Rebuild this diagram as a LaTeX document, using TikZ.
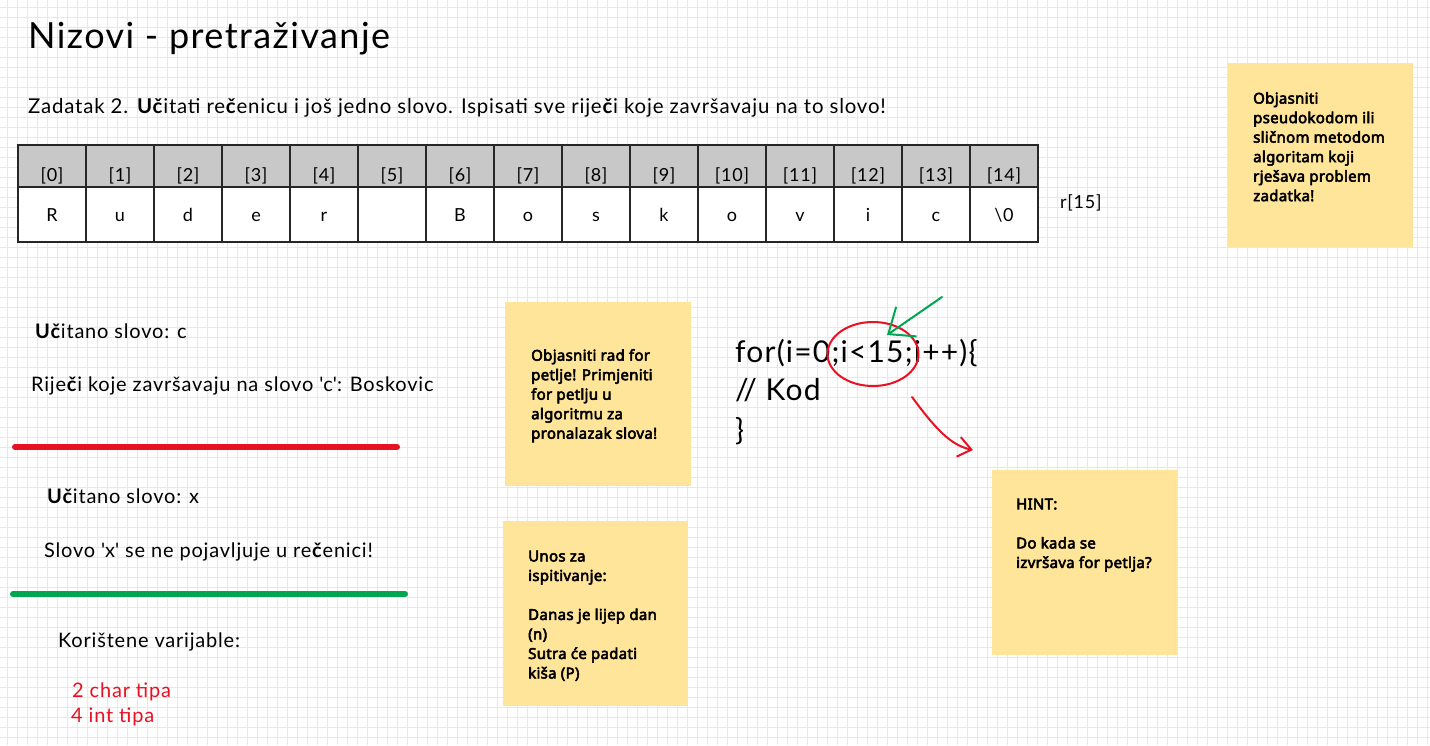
\documentclass[tikz,border=0pt]{standalone}
\usepackage{fontspec}
\setmainfont{Lato}[LetterSpace=4]
\newfontfamily\notefont{Noto Sans}[AutoFakeBold=3.5, LetterSpace=2]
\usepackage{xcolor}
\usetikzlibrary{arrows.meta}

\definecolor{notefill}{RGB}{255,229,153}
\definecolor{markred}{RGB}{232,17,35}
\definecolor{markgreen}{RGB}{0,166,81}
\definecolor{headgray}{RGB}{200,200,200}
\newcommand{\boldc}{\textbf{č}}

\begin{document}
\begin{tikzpicture}[
    x=1pt, y=-1pt,
    gridline/.style={draw=black!9, line width=0.8pt},
    hand/.style={anchor=base west, inner sep=0pt, font=\fontsize{20}{24}\selectfont},
    titletext/.style={anchor=base west, inner sep=0pt, font=\fontsize{36}{42}\selectfont},
    codeline/.style={anchor=base west, inner sep=0pt, font=\fontsize{30}{36}\selectfont},
    cellhead/.style={rectangle, draw=black!85, line width=1.6pt, fill=headgray, minimum width=68, minimum height=42, inner sep=0pt, text height=32pt, text depth=2pt, font=\fontsize{18}{20}\selectfont},
    cellval/.style={rectangle, draw=black!85, line width=1.6pt, fill=white, minimum width=68, minimum height=55, inner sep=0pt, text height=13pt, text depth=0pt, font=\fontsize{18}{20}\selectfont},
    note/.style={rectangle, fill=notefill, anchor=north west, minimum width=185, minimum height=184, inner sep=0pt},
    notetext/.style={anchor=north west, inner sep=0pt, align=left, font={\notefont\bfseries\fontsize{15}{19.5}\selectfont}},
    underline/.style={line width=6pt, line cap=round},
    arrow/.style={line width=2pt, line cap=round}
]

% paper and grid
\useasboundingbox (0,0) rectangle (1430,745);
\fill[white] (0,0) rectangle (1430,745);
\foreach \gx in {7,17,...,1427} \draw[gridline] (\gx,0) -- (\gx,745);
\foreach \gy in {7,17,...,737} \draw[gridline] (0,\gy) -- (1430,\gy);

\node[titletext] (title) at (28,48) {Nizovi - pretraživanje};
\node[hand, font=\fontsize{20.4}{24}\selectfont] (task) at (28,113) {Zadatak 2. \textbf{Uč}itati re\boldc enicu i još jedno slovo. Ispisati sve rije\boldc i koje završavaju na to slovo!};

% the array
\foreach \ch [count=\k from 0] in {R,u,d,e,r,{},B,o,s,k,o,v,i,c,\textbackslash 0}{
  \node[cellhead] (head\k) at ({52+68*\k},166) {[\k]};
  \node[cellval] (cell\k) at ({52+68*\k},214.5) {\ch};
}
\node[hand, font=\fontsize{18}{20}\selectfont] (size) at (1060,208) {r[15]};

% sticky notes
\node[note] (notetop) at (1228,63) {};
\node[notetext] (notetoptext) at (1253,92) {Objasniti\\pseudokodom ili\\sličnom metodom\\algoritam koji\\rješava problem\\zadatka!};

\node[note, minimum width=186] (noteloop) at (505,302) {};
\node[notetext] (noteloottext) at (531,349) {Objasniti rad for\\petlje! Primjeniti\\for petlju u\\algoritmu za\\pronalazak slova!};

\node[note, minimum height=185] (noteinput) at (503,521) {};
\node[notetext] (noteinputtext) at (528,550.5) {Unos za\\ispitivanje:\\[19.5pt]Danas je lijep dan\\(n)\\Sutra će padati\\kiša (P)};

\node[note, minimum height=185] (notehint) at (992,470) {};
\node[notetext] (notehinttext) at (1016,498.5) {HINT:\\[19.5pt]Do kada se\\izvršava for petlja?};

% example runs
\node[hand] (readc) at (35,338) {\textbf{Uč}itano slovo: c};
\node[hand] (resultc) at (31,391) {Rije\boldc i koje završavaju na slovo \textquotesingle c\textquotesingle: Boskovic};
\draw[underline, markred] (15,447) -- (397,447);

\node[hand] (readx) at (47,503) {\textbf{Uč}itano slovo: x};
\node[hand] (resultx) at (44,557) {Slovo \textquotesingle x\textquotesingle\ se ne pojavljuje u re\boldc enici!};
\draw[underline, markgreen] (13,594) -- (405,594);

\node[hand] (vars) at (58,647) {Korištene varijable:};
\node[hand, text=markred] (varchar) at (72,697) {2 char tipa};
\node[hand, text=markred] (varint) at (71,722) {4 int tipa};

% code with marks
\node[codeline] (codefor) at (735,362) {for(i=0;i<15;i++)\{};
\node[codeline] (codebody) at (735,400) {// Kod};
\node[codeline] (codeend) at (735,440) {\}};

\draw[markred, line width=2pt] (873,354) ellipse [x radius=45.5pt, y radius=32pt];

\coordinate (gtail) at (942,297);
\coordinate (ghead) at (887,335);
\draw[arrow, markgreen, -{Straight Barb[length=22pt, width=36pt]}] (gtail) -- (ghead);

\coordinate (rtail) at (912,397);
\coordinate (rhead) at (973,450);
\draw[arrow, markred, -{Straight Barb[length=13pt, width=20pt]}] (rtail) .. controls (935,428) and (950,445) .. (rhead);

\end{tikzpicture}
\end{document}
